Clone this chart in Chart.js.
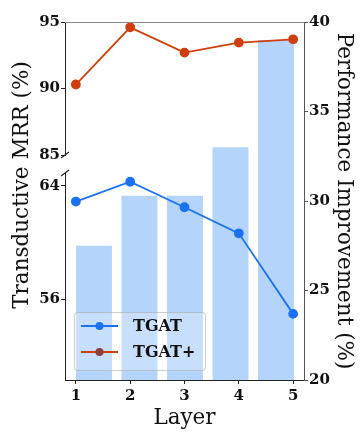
<!DOCTYPE html>
<html>
<head>
<meta charset="utf-8">
<script src="https://cdn.jsdelivr.net/npm/chart.js@4"></script>
<style>
  html, body { margin: 0; padding: 0; background: #fff; }
  #wrap { width: 363px; height: 436px; }
</style>
</head>
<body>
<div id="wrap"><canvas id="c" width="363" height="436"></canvas></div>
<script>
const layers = [1, 2, 3, 4, 5];
const tgat = [62.9, 64.3, 62.5, 60.65, 54.95];
const tgatPlus = [90.3, 94.6, 92.7, 93.45, 93.7];
const improvement = [27.5, 30.3, 30.3, 33.0, 39.0];
const upperTicks = [85, 90, 95];
const lowerTicks = [56, 64];
const rightTicks = [20, 25, 30, 35, 40];
const xTicks = [1, 2, 3, 4, 5];
const leftTitle = 'Transductive MRR (%)';
const rightTitle = 'Performance Improvement (%)';
const xTitle = 'Layer';

const SERIF = "'DejaVu Serif', serif";
const tickFont = { family: SERIF, size: 15, weight: 'bold' };
const titleFont = { family: SERIF, size: 21.5, weight: 'normal' };
const BLUE = '#1a72f2';
const RED = '#cf3e0c';

const setTicks = arr => scale => { scale.ticks = arr.map(v => ({ value: v })); };

const extras = {
  id: 'extras',
  afterDraw(chart) {
    const ctx = chart.ctx;
    const a = chart.chartArea;
    const top = chart.scales.yTop, bot = chart.scales.yBot;
    ctx.save();
    // top spine
    ctx.strokeStyle = '#8a8a8a';
    ctx.lineWidth = 1;
    ctx.beginPath();
    ctx.moveTo(a.left, a.top + 0.5);
    ctx.lineTo(a.right, a.top + 0.5);
    ctx.stroke();
    // break marks
    ctx.strokeStyle = '#222';
    ctx.lineWidth = 1.2;
    for (const y of [top.bottom, bot.top]) {
      ctx.beginPath();
      ctx.moveTo(a.left - 4, y + 3);
      ctx.lineTo(a.left + 4, y - 3);
      ctx.stroke();
    }
    // left title
    ctx.fillStyle = '#111';
    ctx.font = `${titleFont.size}px ${SERIF}`;
    ctx.textAlign = 'center';
    ctx.textBaseline = 'middle';
    ctx.translate(22, 185);
    ctx.rotate(-Math.PI / 2);
    ctx.fillText(leftTitle, 0, 0);
    ctx.setTransform(1, 0, 0, 1, 0, 0);
    // legend
    const bx = 74, by = 312, bw = 131, bh = 58;
    ctx.beginPath();
    ctx.roundRect(bx + 0.5, by + 0.5, bw, bh, 3);
    ctx.fillStyle = 'rgba(255,255,255,0.25)';
    ctx.fill();
    ctx.strokeStyle = 'rgba(170,170,170,0.6)';
    ctx.lineWidth = 1;
    ctx.stroke();
    const items = [
      { ds: chart.data.datasets[0], y: 326 },
      { ds: chart.data.datasets[1], y: 352 }
    ];
    ctx.font = `bold 16px ${SERIF}`;
    ctx.textAlign = 'left';
    ctx.textBaseline = 'middle';
    for (const it of items) {
      ctx.strokeStyle = it.ds.borderColor;
      ctx.lineWidth = 1.8;
      ctx.beginPath();
      ctx.moveTo(81, it.y);
      ctx.lineTo(118, it.y);
      ctx.stroke();
      ctx.fillStyle = it.ds.legendMarker || it.ds.pointBackgroundColor;
      ctx.beginPath();
      ctx.arc(99.5, it.y, 4, 0, Math.PI * 2);
      ctx.fill();
      ctx.fillStyle = '#111';
      ctx.fillText(it.ds.label, 133, it.y + 1);
    }
    ctx.restore();
  }
};

new Chart(document.getElementById('c'), {
  data: {
    datasets: [
      {
        type: 'line', label: 'TGAT',
        data: layers.map((x, i) => ({ x, y: tgat[i] })),
        xAxisID: 'x', yAxisID: 'yBot',
        borderColor: BLUE, backgroundColor: BLUE,
        pointBackgroundColor: BLUE, pointBorderColor: BLUE,
        borderWidth: 1.8, pointRadius: 4, tension: 0, order: 0
      },
      {
        type: 'line', label: 'TGAT+',
        data: layers.map((x, i) => ({ x, y: tgatPlus[i] })),
        xAxisID: 'x', yAxisID: 'yTop',
        borderColor: RED, backgroundColor: RED,
        pointBackgroundColor: RED, pointBorderColor: RED,
        legendMarker: '#8f3f3f',
        borderWidth: 1.8, pointRadius: 4, tension: 0, order: 0
      },
      {
        type: 'bar', label: 'Improvement',
        data: layers.map((x, i) => ({ x, y: improvement[i] })),
        xAxisID: 'xb', yAxisID: 'yR',
        backgroundColor: '#b4d4fb', borderWidth: 0, grouped: false,
        categoryPercentage: 1, barPercentage: 0.79, order: 1
      }
    ]
  },
  options: {
    responsive: false,
    animation: false,
    devicePixelRatio: 1,
    layout: { padding: { top: 22, left: 0, right: 0, bottom: 0 } },
    plugins: { legend: { display: false }, tooltip: { enabled: false } },
    scales: {
      x: {
        type: 'linear', position: 'bottom', min: 0.8, max: 5.2, offset: false,
        afterBuildTicks: setTicks(xTicks),
        afterFit: s => { s.height = 56; },
        grid: { drawOnChartArea: false, tickLength: 4, color: '#222', tickWidth: 1, offset: false },
        border: { color: '#222', width: 1 },
        ticks: { font: tickFont, color: '#111', padding: 3, maxRotation: 0, callback: v => String(v) },
        title: { display: true, text: xTitle, font: titleFont, color: '#111', padding: { top: 0, bottom: 4.5 } }
      },
      xb: {
        type: 'linear', display: false, min: 0.363, max: 5.616, offset: false,
        afterBuildTicks: setTicks(layers),
        grid: { offset: false }
      },
      yBot: {
        type: 'linear', position: 'left', stack: 'left', stackWeight: 207, weight: 1,
        min: 50.27, max: 64.92,
        afterBuildTicks: setTicks(lowerTicks),
        afterFit: s => { s.width = 65; },
        grid: { drawOnChartArea: false, tickLength: 4, color: '#222' },
        border: { color: '#222', width: 1 },
        ticks: { font: tickFont, color: '#111', padding: 1, callback: v => String(v) }
      },
      yGap: {
        type: 'linear', position: 'left', stack: 'left', stackWeight: 18, weight: 2,
        afterFit: s => { s.width = 65; },
        grid: { display: false },
        border: { display: false },
        ticks: { display: false }
      },
      yTop: {
        type: 'linear', position: 'left', stack: 'left', stackWeight: 133, weight: 3,
        min: 85, max: 95,
        afterBuildTicks: setTicks(upperTicks),
        afterFit: s => { s.width = 65; },
        grid: { drawOnChartArea: false, tickLength: 4, color: '#222' },
        border: { color: '#222', width: 1 },
        ticks: { font: tickFont, color: '#111', padding: 1, callback: v => String(v) }
      },
      yR: {
        type: 'linear', position: 'right', min: 20, max: 40,
        afterBuildTicks: setTicks(rightTicks),
        afterFit: s => { s.width = 59; },
        grid: { drawOnChartArea: false, tickLength: 4, color: '#555' },
        border: { color: '#555', width: 1 },
        ticks: { font: tickFont, color: '#111', padding: 1, callback: v => String(v) },
        title: { display: true, text: rightTitle, font: titleFont, color: '#111', padding: { top: 7, bottom: 0 } }
      }
    }
  },
  plugins: [extras]
});
</script>
</body>
</html>
